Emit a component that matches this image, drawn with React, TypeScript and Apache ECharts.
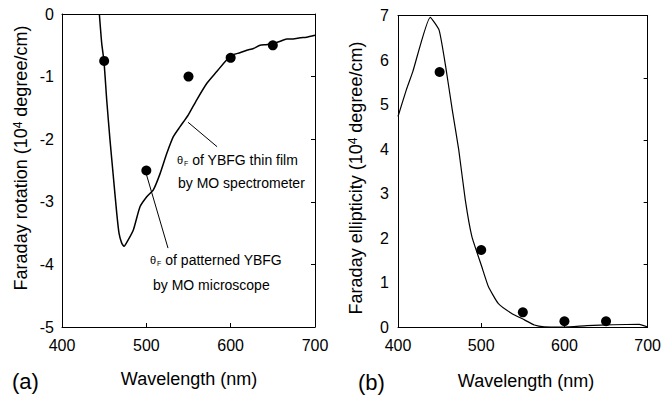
import React, { useEffect, useRef } from "react";
import * as echarts from "echarts";

// Panel (a): Faraday rotation, thin film curve (wavelength nm, 10^4 deg/cm)
const rotWavelength = [444.3, 447.1, 449.8, 453, 456.9, 460.9, 464.9, 467.6, 470.8, 473.6, 478, 484.6, 492.5, 500.5, 508.3, 516.3, 524.2, 532, 540, 549.8, 559.8, 571.6, 583.5, 595.4, 603.2, 611, 619.1, 627, 634.9, 642, 650.6, 658, 666.5, 674, 682.3, 690, 700];
const rotValues = [0, -0.47, -0.76, -1.37, -2.01, -2.6, -3.18, -3.5, -3.66, -3.71, -3.62, -3.45, -3.08, -2.92, -2.81, -2.55, -2.23, -1.96, -1.8, -1.61, -1.37, -1.11, -0.92, -0.73, -0.65, -0.62, -0.58, -0.55, -0.5, -0.49, -0.47, -0.44, -0.4, -0.4, -0.38, -0.37, -0.34];
// Panel (a): patterned YBFG points
const rotDotWavelength = [450, 500, 550, 600, 650];
const rotDotValues = [-0.75, -2.5, -1.0, -0.7, -0.5];

// Panel (b): Faraday ellipticity curve
const ellWavelength = [400, 410, 417.8, 438.7, 449.4, 457.3, 465.2, 473, 480.9, 488.8, 500.6, 508.6, 520.4, 536.2, 552, 563.8, 575.7, 600, 627, 658.6, 690, 700];
const ellValues = [4.73, 5.33, 5.74, 6.96, 6.67, 5.85, 4.88, 3.98, 2.85, 2.03, 1.36, 0.91, 0.53, 0.31, 0.16, 0.045, 0.005, 0, 0.03, 0.05, 0.06, 0];
const ellDotWavelength = [450, 500, 550, 600, 650];
const ellDotValues = [5.73, 1.73, 0.33, 0.13, 0.13];

// Tick labels
const xTicks = [400, 500, 600, 700];
const rotTicks = [0, -1, -2, -3, -4, -5];
const ellTicks = [0, 1, 2, 3, 4, 5, 6, 7];

const FONT = "'Liberation Sans', Arial, Helvetica, sans-serif";

export default function App() {
  const ref = useRef<HTMLDivElement>(null);
  useEffect(() => {
    if (!ref.current) return;
    const chart = echarts.init(ref.current, undefined, { renderer: "svg" });
    const zip = (a: number[], b: number[]) => a.map((v, i) => [v, b[i]]);
    const lineAxis = { lineStyle: { color: "#000", width: 1 } };
    const xBase = (grid: number) => ({
      type: "value" as const,
      gridIndex: grid,
      min: xTicks[0],
      max: xTicks[xTicks.length - 1],
      interval: 100,
      axisLine: { show: true, onZero: false, ...lineAxis },
      splitLine: { show: false },
    });
    const xBottom = (grid: number) => ({
      ...xBase(grid),
      position: "bottom" as const,
      axisTick: { show: true, inside: true, length: 4, lineStyle: { color: "#000" } },
      axisLabel: { color: "#000", fontSize: 16, fontFamily: FONT, margin: 10 },
    });
    const xTop = (grid: number) => ({
      ...xBase(grid),
      position: "top" as const,
      axisTick: { show: false },
      axisLabel: { show: false },
    });
    const sup = {
      a: { fontSize: 18, fontFamily: FONT, color: "#000" },
      s: { fontSize: 12, fontFamily: FONT, color: "#000", verticalAlign: "top" as const },
    };
    const annRich = {
      t: { fontSize: 11, fontFamily: FONT, color: "#000" },
      f: { fontSize: 7, fontFamily: FONT, color: "#000", verticalAlign: "bottom" as const, padding: [0, 0, 0, 1] },
      n: { fontSize: 14, fontFamily: FONT, color: "#000" },
    };
    chart.setOption({
      animation: false,
      backgroundColor: "#fff",
      grid: [
        { left: 62, top: 14, width: 253, height: 313 },
        { left: 398, top: 15.5, width: 253.5, height: 311.5 },
      ],
      xAxis: [xBottom(0), xTop(0), xBottom(1), xTop(1)],
      yAxis: [
        {
          type: "value", gridIndex: 0, min: rotTicks[rotTicks.length - 1], max: rotTicks[0], interval: 1,
          axisLine: { show: true, onZero: false, ...lineAxis },
          axisTick: { show: false },
          axisLabel: { color: "#000", fontSize: 16, fontFamily: FONT, margin: 8 },
          splitLine: { show: false },
        },
        {
          type: "value", gridIndex: 0, position: "right", min: -5, max: 0, interval: 1,
          axisLine: { show: true, onZero: false, ...lineAxis },
          axisTick: { show: true, inside: true, length: 4, lineStyle: { color: "#000" } },
          axisLabel: { show: false },
          splitLine: { show: false },
        },
        {
          type: "value", gridIndex: 1, min: ellTicks[0], max: ellTicks[ellTicks.length - 1], interval: 1,
          axisLine: { show: true, onZero: false, ...lineAxis },
          axisTick: { show: false },
          axisLabel: { color: "#000", fontSize: 16, fontFamily: FONT, margin: 9 },
          splitLine: { show: false },
        },
        {
          type: "value", gridIndex: 1, position: "right", min: 0, max: 5, interval: 1,
          axisLine: { show: true, onZero: false, ...lineAxis },
          axisTick: { show: true, inside: true, length: 4, lineStyle: { color: "#000" } },
          axisLabel: { show: false },
          splitLine: { show: false },
        },
      ],
      series: [
        {
          type: "line", xAxisIndex: 0, yAxisIndex: 0, data: zip(rotWavelength, rotValues),
          showSymbol: false, smooth: 0.2, clip: true,
          lineStyle: { color: "#000", width: 1.5 },
          markLine: {
            silent: true, symbol: "none", label: { show: false },
            lineStyle: { color: "#000", width: 1, type: "solid" },
            data: [
              [{ coord: [549.5, -1.73] }, { coord: [583.9, -2.12] }],
              [{ coord: [499.6, -2.54] }, { coord: [525.7, -3.74] }],
            ],
          },
        },
        {
          type: "scatter", xAxisIndex: 0, yAxisIndex: 0, data: zip(rotDotWavelength, rotDotValues),
          symbolSize: 10, itemStyle: { color: "#000", opacity: 1 },
        },
        {
          type: "line", xAxisIndex: 2, yAxisIndex: 2, data: zip(ellWavelength, ellValues),
          showSymbol: false, smooth: 0.15, clip: true,
          lineStyle: { color: "#000", width: 1.2 },
        },
        {
          type: "scatter", xAxisIndex: 2, yAxisIndex: 2, data: zip(ellDotWavelength, ellDotValues),
          symbolSize: 10, itemStyle: { color: "#000", opacity: 1 },
        },
      ],
      graphic: [
        {
          type: "text", x: 21, y: 158, rotation: Math.PI / 2,
          style: { text: "{a|Faraday rotation (10}{s|4}{a| degree/cm)}", rich: sup, align: "center", verticalAlign: "middle" },
        },
        {
          type: "text", x: 356, y: 178, rotation: Math.PI / 2,
          style: { text: "{a|Faraday ellipticity (10}{s|4}{a| degree/cm)}", rich: sup, align: "center", verticalAlign: "middle" },
        },
        {
          type: "text", x: 189, y: 379,
          style: { text: "Wavelength (nm)", font: `18px ${FONT}`, fill: "#000", align: "center", verticalAlign: "middle" },
        },
        {
          type: "text", x: 526, y: 381,
          style: { text: "Wavelength (nm)", font: `18px ${FONT}`, fill: "#000", align: "center", verticalAlign: "middle" },
        },
        {
          type: "text", x: 12, y: 381,
          style: { text: "(a)", font: `22px ${FONT}`, fill: "#000", align: "left", verticalAlign: "middle" },
        },
        {
          type: "text", x: 358, y: 382,
          style: { text: "(b)", font: `22px ${FONT}`, fill: "#000", align: "left", verticalAlign: "middle" },
        },
        {
          type: "text", x: 177, y: 160,
          style: { text: "{t|θ}{f|F}{n| of YBFG thin film}", rich: annRich, align: "left", verticalAlign: "middle" },
        },
        {
          type: "text", x: 178, y: 183,
          style: { text: "by MO spectrometer", font: `14px ${FONT}`, fill: "#000", align: "left", verticalAlign: "middle" },
        },
        {
          type: "text", x: 150, y: 260,
          style: { text: "{t|θ}{f|F}{n| of patterned YBFG}", rich: annRich, align: "left", verticalAlign: "middle" },
        },
        {
          type: "text", x: 153, y: 285,
          style: { text: "by MO microscope", font: `14px ${FONT}`, fill: "#000", align: "left", verticalAlign: "middle" },
        },
      ],
    });
    return () => chart.dispose();
  }, []);
  return <div ref={ref} style={{ width: 664, height: 395, position: "absolute", left: 0, top: 0 }} />;
}
